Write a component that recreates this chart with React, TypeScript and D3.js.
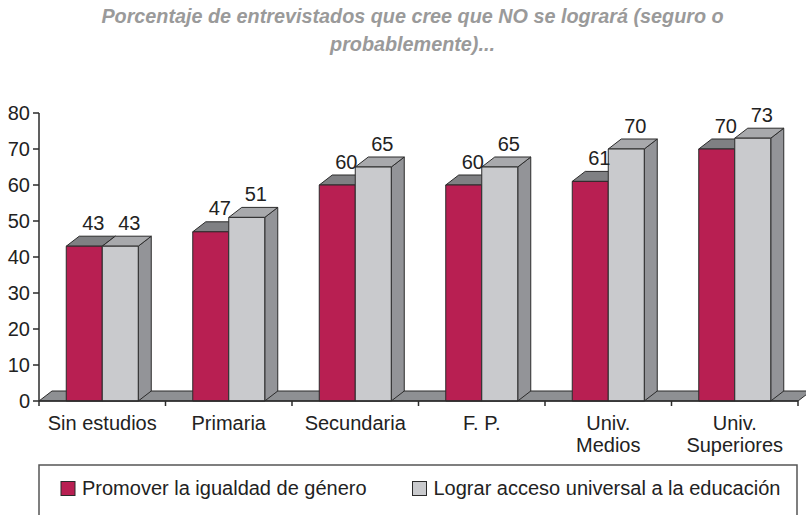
import React from "react";
import * as d3 from "d3";

const categories: string[][] = [
  ["Sin estudios"],
  ["Primaria"],
  ["Secundaria"],
  ["F. P."],
  ["Univ.", "Medios"],
  ["Univ.", "Superiores"],
];
const seriesNames = [
  "Promover la igualdad de género",
  "Lograr acceso universal a la educación",
];
const igualdad = [43, 47, 60, 60, 61, 70];
const acceso = [43, 51, 65, 65, 70, 73];
const yTicks = [0, 10, 20, 30, 40, 50, 60, 70, 80];
const titleLines = [
  "Porcentaje de entrevistados que cree que NO se logrará (seguro o",
  "probablemente)...",
];

const W = 806;
const H = 515;
const FONT = "'Liberation Sans', Arial, Helvetica, sans-serif";
const FS = 20;
const DX = 13;
const DY = 10;

const seriesStyle = [
  { front: "#b81f52", top: "#7f8083", side: "#7a1535" },
  { front: "#c9cacd", top: "#a8a9ac", side: "#939498" },
];

export default function App() {
  const catKeys = categories.map((c) => c.join(" "));
  const x = d3.scaleBand<string>().domain(catKeys).range([39, 798]).padding(0);
  const y = d3.scaleLinear().domain([0, 80]).range([401, 113]);
  const inner = d3
    .scaleBand<number>()
    .domain([0, 1])
    .range([0, 72])
    .padding(0);
  const bw = inner.bandwidth();
  const series = [igualdad, acceso];
  const y0 = y(0);
  const [xl, xr] = x.range();

  const bars: React.ReactNode[] = [];
  const labels: React.ReactNode[] = [];
  catKeys.forEach((k, i) => {
    const cx = (x(k) as number) + x.bandwidth() / 2;
    const gx = cx - 36;
    series.forEach((vals, s) => {
      const v = vals[i];
      const x0 = gx + (inner(s) as number);
      const x1 = x0 + bw;
      const yt = y(v);
      const st = seriesStyle[s];
      bars.push(
        <g key={`b${i}-${s}`} stroke="#2b2b2b" strokeWidth={1} strokeLinejoin="round">
          <path
            d={`M${x1},${y0}L${x1 + DX},${y0 - DY}L${x1 + DX},${yt - DY}L${x1},${yt}Z`}
            fill={st.side}
          />
          <path
            d={`M${x0},${yt}L${x0 + DX},${yt - DY}L${x1 + DX},${yt - DY}L${x1},${yt}Z`}
            fill={st.top}
          />
          <rect x={x0} y={yt} width={bw} height={y0 - yt} fill={st.front} />
        </g>
      );
      labels.push(
        <text
          key={`l${i}-${s}`}
          x={(x0 + x1) / 2 + 9}
          y={yt - 16.5}
          textAnchor="middle"
          fontSize={FS}
          fill="#222"
        >
          {v}
        </text>
      );
    });
  });

  return (
    <svg
      width={W}
      height={H}
      style={{ position: "absolute", left: 0, top: 0, background: "#fff" }}
      fontFamily={FONT}
    >
      {/* Title */}
      {titleLines.map((t, i) => (
        <text
          key={i}
          x={412.5}
          y={22.7 + i * 28}
          textAnchor="middle"
          fontSize={19.8}
          fontWeight="bold"
          fontStyle="italic"
          fill="#9a9a9a"
        >
          {t}
        </text>
      ))}

      {/* Floor */}
      <path
        d={`M${xl},${y0}L${xr},${y0}L${xr + DX},${y0 - DY}L${xl + DX},${y0 - DY}Z`}
        fill="#8e9093"
        stroke="#2b2b2b"
        strokeWidth={1}
      />

      {bars}

      {/* Y axis */}
      <line x1={xl} x2={xl} y1={y(80)} y2={y0} stroke="#2b2b2b" strokeWidth={1.5} />
      {yTicks.map((t) => (
        <g key={t}>
          <line x1={xl - 6} x2={xl} y1={y(t)} y2={y(t)} stroke="#2b2b2b" strokeWidth={1.5} />
          <text x={30} y={y(t) + 7} textAnchor="end" fontSize={FS} fill="#222">
            {t}
          </text>
        </g>
      ))}

      {/* X axis */}
      <line x1={xl} x2={xr} y1={y0} y2={y0} stroke="#2b2b2b" strokeWidth={1.5} />
      {[...catKeys.map((k) => x(k) as number), xr].map((bx, i) => (
        <line key={i} x1={bx} x2={bx} y1={y0} y2={y0 + 5} stroke="#2b2b2b" strokeWidth={1.5} />
      ))}
      {categories.map((lines, i) => (
        <text
          key={i}
          x={(x(catKeys[i]) as number) + x.bandwidth() / 2}
          y={430}
          textAnchor="middle"
          fontSize={FS}
          fill="#222"
        >
          {lines.map((ln, j) => (
            <tspan key={j} x={(x(catKeys[i]) as number) + x.bandwidth() / 2} dy={j === 0 ? 0 : 22}>
              {ln}
            </tspan>
          ))}
        </text>
      ))}

      {labels}

      {/* Legend */}
      <rect x={39} y={465} width={758} height={70} fill="none" stroke="#555" strokeWidth={1.5} />
      {seriesNames.map((n, i) => {
        const lx = i === 0 ? 61 : 412.5;
        return (
          <g key={n}>
            <rect
              x={lx}
              y={481.5}
              width={14}
              height={14}
              fill={seriesStyle[i].front}
              stroke="#2b2b2b"
              strokeWidth={1}
            />
            <text x={lx + 21} y={495} fontSize={FS} fill="#222">
              {n}
            </text>
          </g>
        );
      })}
    </svg>
  );
}
